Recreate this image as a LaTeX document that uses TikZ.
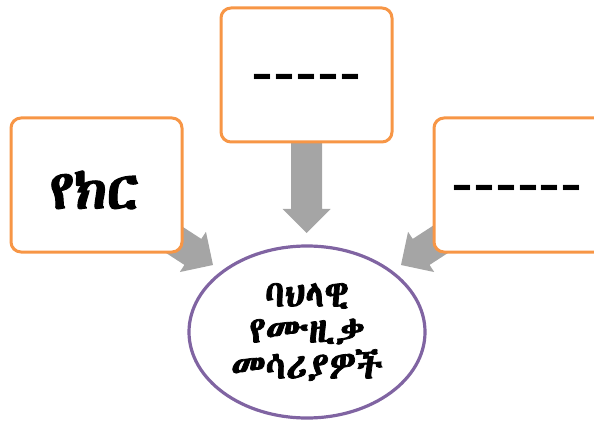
\documentclass[tikz,border=0pt]{standalone}
\usepackage{fontspec}
\setmainfont{Liberation Sans}
\IfFontExistsTF{Abyssinica SIL}{\newfontfamily\ethfont{Abyssinica SIL}[FakeBold=2]}{\newfontfamily\ethfont{DejaVu Sans}[FakeBold=2]}
\usetikzlibrary{shapes.geometric}
\definecolor{boxorange}{HTML}{F79646}
\definecolor{ellpurple}{HTML}{8064A2}
\definecolor{arrgray}{HTML}{A5A5A5}
\newcommand\blockarrow[3]{%
  \fill[arrgray, shift={(#1)}, rotate=#2] (0,0) -- (-24,24) -- (-24,15.5) -- (-#3,15.5)
    -- (-#3,-15.5) -- (-24,-15.5) -- (-24,-24) -- cycle;}
\begin{document}
\begin{tikzpicture}[x=1pt,y=-1pt,
  box/.style={draw=boxorange, line width=3pt, rounded corners=10pt, fill=white,
    minimum width=171pt, minimum height=134pt, inner sep=0pt},
  dashtext/.style={font=\fontsize{66}{70}\selectfont, inner sep=0pt, anchor=base},
  ethbig/.style={font=\ethfont\fontsize{55}{60}\selectfont, inner sep=0pt},
  ellip/.style={draw=ellpurple, line width=3.2pt, ellipse, minimum width=236pt,
    minimum height=172pt, inner sep=0pt, align=center,
    font=\ethfont\fontsize{37}{36}\selectfont}]
\useasboundingbox (0,0) rectangle (594,422);
\clip (0,0) rectangle (594,422);
% arrows (drawn first, behind the boxes)
\coordinate (Ltip) at (213,265);
\coordinate (Ttip) at (306.5,233);
\coordinate (Rtip) at (401,265);
\blockarrow{Ltip}{-33}{90}
\blockarrow{Ttip}{-90}{93}
\blockarrow{Rtip}{213}{90}
% boxes
\node[box] (L) at (96.5,185) {};
\node[box] (T) at (306.5,75) {};
\node[box] (R) at (519.5,185) {};
\node[ethbig] (Ltext) at (94.5,190) {የክር};
\node[dashtext] (Ttext) at (306.5,95) {-{}-{}-{}-{}-};
\node[dashtext] (Rtext) at (517,205) {-{}-{}-{}-{}-{}-};
% ellipse
\node[ellip] (E) at (307,332) {ባህላዊ\\የሙዚቃ\\መሳሪያዎች};
\end{tikzpicture}
\end{document}
